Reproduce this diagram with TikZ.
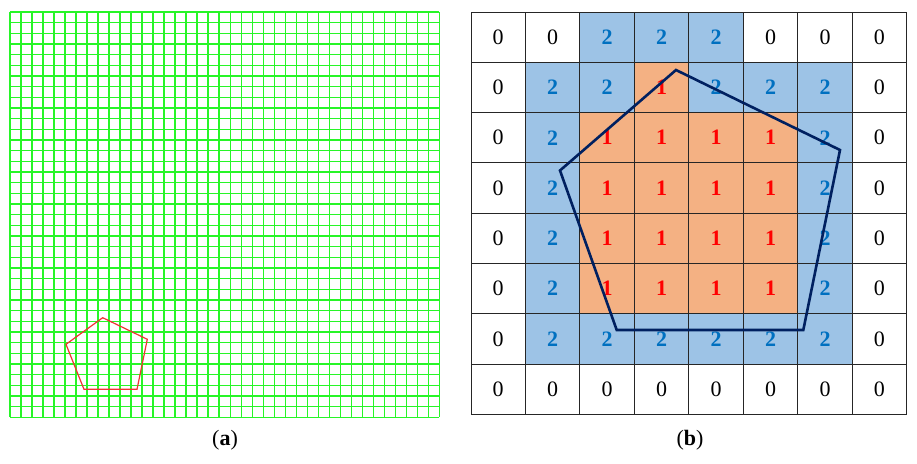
\documentclass[tikz,border=0pt]{standalone}
\usepackage{fontspec}
\setmainfont{Liberation Serif}
\definecolor{gridgreen}{RGB}{40,245,40}
\definecolor{cellblue}{RGB}{157,195,230}
\definecolor{cellorange}{RGB}{244,177,131}
\definecolor{numblue}{RGB}{0,112,192}
\definecolor{numred}{RGB}{255,0,0}
\definecolor{navy}{RGB}{0,32,96}
\definecolor{pentred}{RGB}{240,50,50}
\begin{document}
\begin{tikzpicture}[x=1pt,y=-1pt,
  gline/.style={draw=gridgreen,line width=1.3pt},
  cellbase/.style={inner sep=0pt,minimum width=54.46pt,minimum height=50.29pt,font=\fontsize{22}{22}\selectfont},
  c0/.style={cellbase,fill=white,text=black},
  c1/.style={cellbase,fill=cellorange,text=numred,font=\fontsize{22}{22}\selectfont\bfseries},
  c2/.style={cellbase,fill=cellblue,text=numblue,font=\fontsize{22}{22}\selectfont\bfseries},
  bline/.style={draw=black!85,line width=0.9pt},
  lbl/.style={font=\fontsize{22}{22}\selectfont}]
\useasboundingbox (0,0) rectangle (917,463);
% ---- panel (a) ----
\foreach \i in {0,...,39}
  \draw[gline] ({10+\i*(429.3/39)},12) -- ({10+\i*(429.3/39)},417.3);
\foreach \j in {0,...,38}
  \draw[gline] (10,{12+\j*(405.3/38)}) -- (439.3,{12+\j*(405.3/38)});
\draw[pentred,line width=1.2pt,line join=miter] (102.7,317.7) -- (147.3,339.3) -- (137,389.3) -- (84,389.3) -- (66,344.3) -- cycle;
\node[lbl] (la) at (225,440) {(\textbf{a})};
% ---- panel (b) ----
\foreach \r/\row in {0/{0,0,2,2,2,0,0,0},1/{0,2,2,1,2,2,2,0},2/{0,2,1,1,1,1,2,0},3/{0,2,1,1,1,1,2,0},4/{0,2,1,1,1,1,2,0},5/{0,2,1,1,1,1,2,0},6/{0,2,2,2,2,2,2,0},7/{0,0,0,0,0,0,0,0}}{
  \foreach \v [count=\c from 0] in \row {
    \node[c\v] (n-\r-\c) at ({471+(\c+0.5)*54.4625},{12+(\r+0.5)*50.2875}) {\raisebox{-1.2pt}{\v}};
  }
}
\foreach \i in {0,...,8}
  \draw[bline] ({471+\i*54.4625},12) -- ({471+\i*54.4625},414.3);
\foreach \j in {0,...,8}
  \draw[bline] (471,{12+\j*50.2875}) -- (906.7,{12+\j*50.2875});
\draw[navy,line width=2.6pt,line join=miter] (676,70) -- (840,150) -- (803.3,330) -- (616.7,330) -- (560,170.5) -- cycle;
\node[lbl] (lb) at (690,440) {(\textbf{b})};
\end{tikzpicture}
\end{document}
